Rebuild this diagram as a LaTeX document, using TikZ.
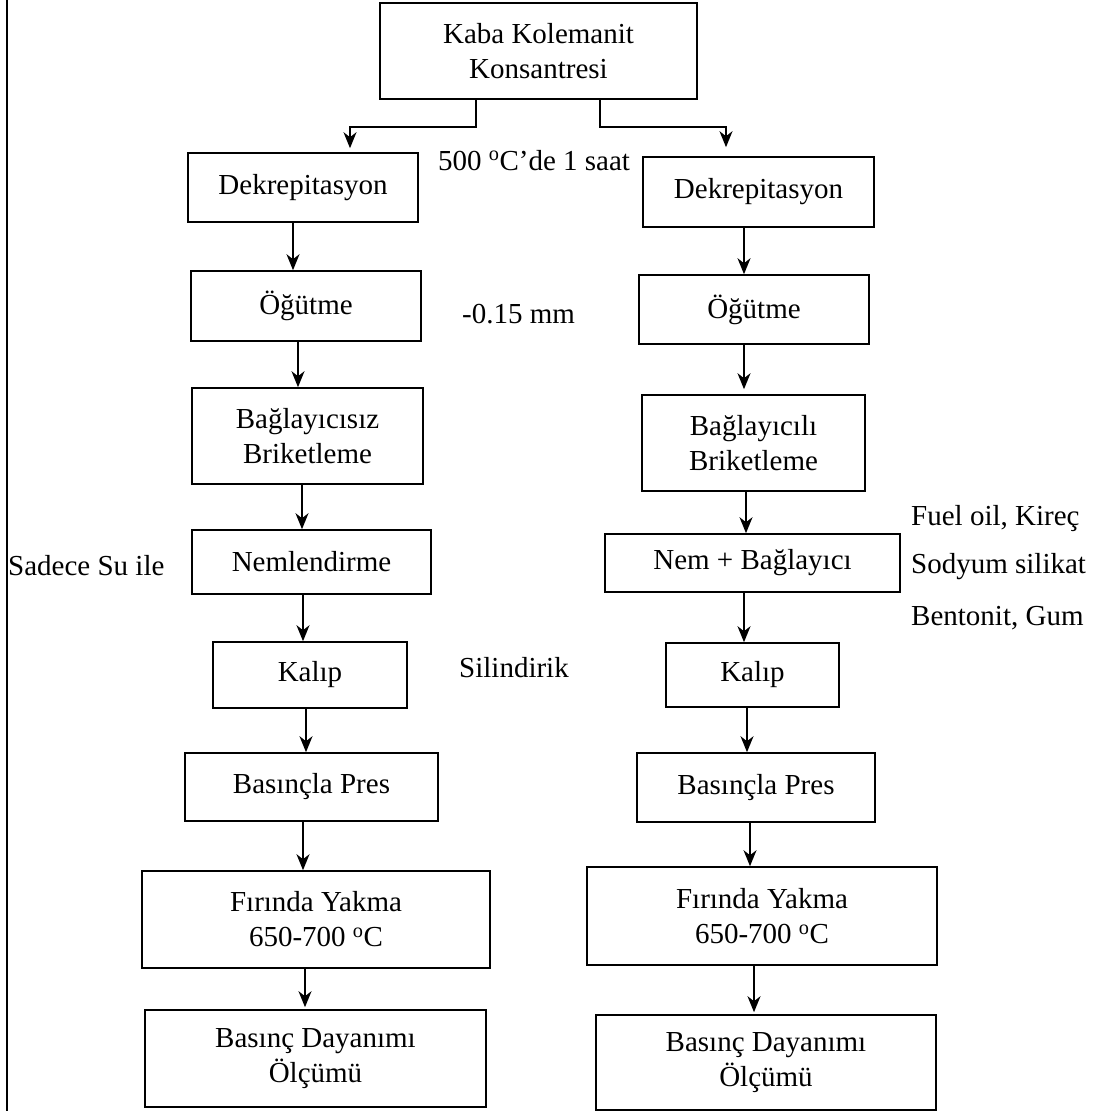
\documentclass[tikz,border=0pt]{standalone}
\usepackage{fontspec}
\setmainfont{Liberation Serif}
\usetikzlibrary{arrows.meta}
\begin{document}
\begin{tikzpicture}[x=1pt,y=-1pt,
  txt/.style={font=\fontsize{29}{35}\selectfont},
  box/.style={txt, draw, line width=1.6pt, inner sep=0pt, align=center},
  lbl/.style={txt, inner sep=0pt, anchor=base west},
  arr/.style={line width=1.4pt, -{Stealth[length=16pt,width=13pt,inset=5pt]}},
]
\useasboundingbox (0,0) rectangle (1102,1111);

% page rule on the left
\draw[line width=1.4pt] (7,0) -- (7,1111);

% source material
\node[box, minimum width=317, minimum height=96] (top) at (538.5,51) {Kaba Kolemanit\\Konsantresi};

% left branch: briquetting without binder
\node[box, minimum width=230, minimum height=69] (dL) at (303,187.5) {Dekrepitasyon};
\node[box, minimum width=230, minimum height=70] (oL) at (306,306) {Öğütme};
\node[box, minimum width=231, minimum height=96] (bL) at (307.5,436) {Bağlayıcısız\\Briketleme};
\node[box, minimum width=239, minimum height=64] (nL) at (311.5,562) {Nemlendirme};
\node[box, minimum width=194, minimum height=66] (kL) at (310,675) {Kalıp};
\node[box, minimum width=253, minimum height=68] (pL) at (311.5,787) {Basınçla Pres};
\node[box, minimum width=348, minimum height=97] (fL) at (316,919.5) {Fırında Yakma\\650-700 \textsuperscript{o}C};
\node[box, minimum width=341, minimum height=97] (mL) at (315.5,1058.5) {Basınç Dayanımı\\Ölçümü};

% right branch: briquetting with binder
\node[box, minimum width=231, minimum height=70] (dR) at (758.5,192) {Dekrepitasyon};
\node[box, minimum width=230, minimum height=69] (oR) at (754,309.5) {Öğütme};
\node[box, minimum width=223, minimum height=96] (bR) at (753.5,443) {Bağlayıcılı\\Briketleme};
\node[box, minimum width=295, minimum height=58] (nR) at (752.5,563) {Nem + Bağlayıcı};
\node[box, minimum width=173, minimum height=64] (kR) at (752.5,675) {Kalıp};
\node[box, minimum width=238, minimum height=69] (pR) at (756,787.5) {Basınçla Pres};
\node[box, minimum width=350, minimum height=98] (fR) at (762,916) {Fırında Yakma\\650-700 \textsuperscript{o}C};
\node[box, minimum width=340, minimum height=95] (mR) at (766,1062.5) {Basınç Dayanımı\\Ölçümü};

% side notes
\node[lbl] (n500) at (438,170) {500 \textsuperscript{o}C’de 1 saat};
\node[lbl] (nmm) at (462,323) {-0.15 mm};
\node[lbl] (nsu) at (8,575) {Sadece Su ile};
\node[lbl] (nsil) at (459,677) {Silindirik};
\node[lbl] (nfuel) at (911,525) {Fuel oil, Kireç};
\node[lbl] (nsod) at (911,573) {Sodyum silikat};
\node[lbl] (nben) at (911,625) {Bentonit, Gum};

% split from the source box
\draw[arr, shorten >=4pt] (top.south -| 476,0) -- (476,127) -| (dL.north -| 350,0);
\draw[arr, shorten >=9pt] (top.south -| 600,0) -- (600,127) -| (dR.north -| 726,0);

% left flow
\draw[arr] (dL.south -| 293,0) -- (oL.north -| 293,0);
\draw[arr] (oL.south -| 298,0) -- (bL.north -| 298,0);
\draw[arr] (bL.south -| 302,0) -- (nL.north -| 302,0);
\draw[arr] (nL.south -| 303,0) -- (kL.north -| 303,0);
\draw[arr] (kL.south -| 306,0) -- (pL.north -| 306,0);
\draw[arr] (pL.south -| 303,0) -- (fL.north -| 303,0);
\draw[arr, shorten >=2pt] (fL.south -| 305,0) -- (mL.north -| 305,0);

% right flow
\draw[arr] (dR.south -| 744,0) -- (oR.north -| 744,0);
\draw[arr, shorten >=5pt] (oR.south -| 744,0) -- (bR.north -| 744,0);
\draw[arr] (bR.south -| 746,0) -- (nR.north -| 746,0);
\draw[arr] (nR.south -| 744,0) -- (kR.north -| 744,0);
\draw[arr] (kR.south -| 747,0) -- (pR.north -| 747,0);
\draw[arr] (pR.south -| 750,0) -- (fR.north -| 750,0);
\draw[arr, shorten >=2pt] (fR.south -| 754,0) -- (mR.north -| 754,0);
\end{tikzpicture}
\end{document}
